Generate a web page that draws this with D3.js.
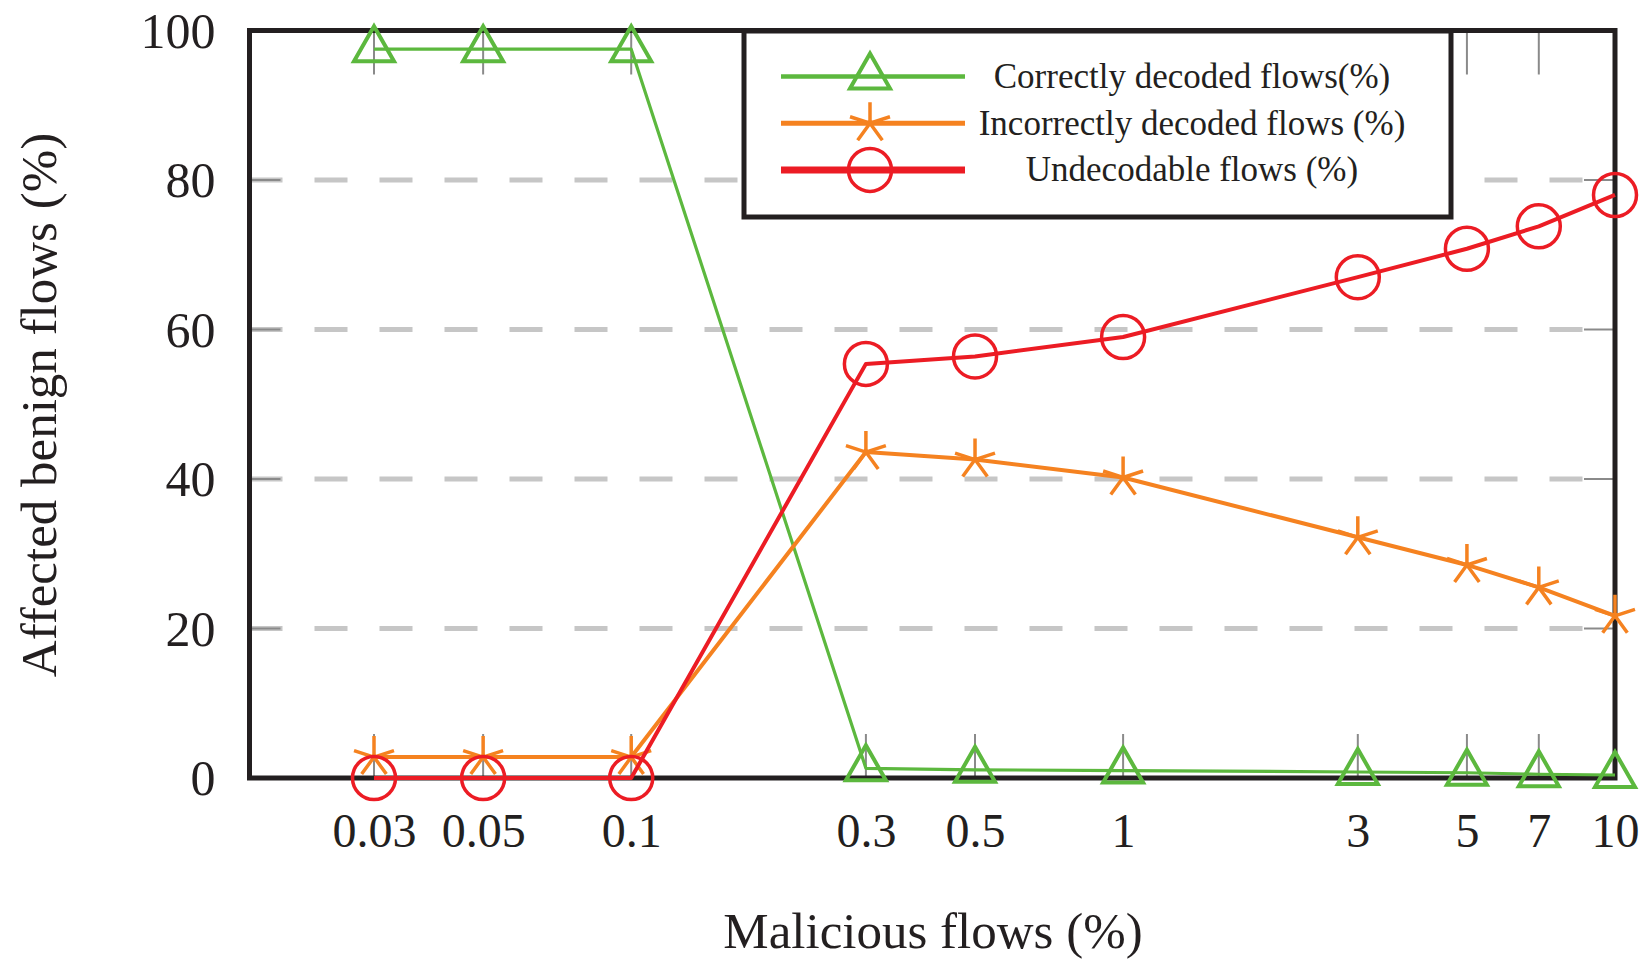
<!DOCTYPE html>
<html lang="en">
<head>
    <meta charset="UTF-8">
    <title>Affected benign flows</title>
    <style>
        body{ margin:0; background:#fff; }
        svg{ display:block; }
        text{ font-family:"Liberation Serif","DejaVu Serif",serif; fill:#231f20; }
    </style>
    <script src="https://cdn.jsdelivr.net/npm/d3@7"></script>
</head>
<body>
    <script>
        // data
        const xValues=[0.03,0.05,0.1,0.3,0.5,1,3,5,7,10];
        const xLabels=["0.03","0.05","0.1","0.3","0.5","1","3","5","7","10"];
        const yTicks=[0,20,40,60,80,100];
        const correctly=[97.5,97.5,97.5,1.3,1.1,1.0,0.8,0.7,0.5,0.4];
        const incorrectly=[2.8,2.8,2.8,43.6,42.6,40.2,32.2,28.5,25.5,21.7];
        const undecodable=[0,0,0,55.4,56.4,59.0,67.0,70.8,73.8,78.0];
        const seriesNames=["Correctly decoded flows(%)","Incorrectly decoded flows (%)","Undecodable flows (%)"];

        const width=1644, height=962;
        const margins={top:30.5, right:29, bottom:184, left:249.5};

        const svg=d3.select("body").append("svg")
            .attr("width",width).attr("height",height);

        const xScale=d3.scaleLog()
            .domain([0.01675,10])
            .range([margins.left,width-margins.right]);
        const yScale=d3.scaleLinear()
            .domain([0,100])
            .range([height-margins.bottom,margins.top]);

        //grid lines
        svg.append("g").selectAll("line")
            .data(yTicks.filter(d=>d>0&&d<100))
            .enter().append("line")
            .attr("x1",margins.left).attr("x2",width-margins.right)
            .attr("y1",d=>yScale(d)).attr("y2",d=>yScale(d))
            .attr("stroke","#c6c6c6").attr("stroke-width",5)
            .attr("stroke-dasharray","33,32");

        //tick marks inside the frame
        const tickG=svg.append("g").attr("stroke","#8a8a8a").attr("stroke-width",2);
        tickG.selectAll(".yl").data(yTicks).enter().append("line")
            .attr("x1",margins.left).attr("x2",margins.left+31)
            .attr("y1",d=>yScale(d)).attr("y2",d=>yScale(d));
        tickG.selectAll(".yr").data(yTicks).enter().append("line")
            .attr("x1",width-margins.right-31).attr("x2",width-margins.right)
            .attr("y1",d=>yScale(d)).attr("y2",d=>yScale(d));
        tickG.selectAll(".xb").data(xValues).enter().append("line")
            .attr("x1",d=>xScale(d)).attr("x2",d=>xScale(d))
            .attr("y1",yScale(0)).attr("y2",yScale(0)-44);
        tickG.selectAll(".xt").data(xValues).enter().append("line")
            .attr("x1",d=>xScale(d)).attr("x2",d=>xScale(d))
            .attr("y1",yScale(100)).attr("y2",yScale(100)+44);

        //axes labels
        const xAxis=d3.axisBottom(xScale).tickValues(xValues)
            .tickFormat((d,i)=>xLabels[i]).tickSize(0).tickPadding(0);
        svg.append("g")
            .attr("transform",`translate(0,${height-margins.bottom})`)
            .call(xAxis)
            .call(g=>g.select(".domain").remove())
            .selectAll("text")
            .attr("y",69).attr("dy",0)
            .style("font-size","48px").attr("fill","#231f20");

        const yAxis=d3.axisLeft(yScale).tickValues(yTicks).tickSize(0).tickPadding(0);
        svg.append("g")
            .attr("transform",`translate(${margins.left-34},0)`)
            .call(yAxis)
            .call(g=>g.select(".domain").remove())
            .selectAll("text")
            .attr("dy","0.33em")
            .style("font-size","50px").attr("fill","#231f20");

        //frame
        svg.append("rect")
            .attr("x",margins.left).attr("y",margins.top)
            .attr("width",width-margins.left-margins.right)
            .attr("height",height-margins.top-margins.bottom)
            .attr("fill","none").attr("stroke","#231f20").attr("stroke-width",5);

        //marker shapes
        const triangle={draw(ctx,size){
            const s=Math.sqrt(size)/40;
            ctx.moveTo(0,-23*s); ctx.lineTo(20*s,12*s); ctx.lineTo(-20*s,12*s); ctx.closePath();
        }};
        const asterisk={draw(ctx,size){
            const r=Math.sqrt(size)/2;
            for(let k=0;k<5;k++){
                const a=k*2*Math.PI/5;
                ctx.moveTo(0,0); ctx.lineTo(r*Math.sin(a),-r*Math.cos(a));
            }
        }};
        const ring={draw(ctx,size){
            const r=Math.sqrt(size)/2;
            ctx.moveTo(r,0); ctx.arc(0,0,r,0,2*Math.PI);
        }};

        const series=[
            {name:seriesNames[0],values:correctly,color:"#5cb83e",width:3.2,legendWidth:4.5,symbol:triangle,size:1600,mw:4},
            {name:seriesNames[1],values:incorrectly,color:"#f58220",width:4,legendWidth:5,symbol:asterisk,size:1764,mw:3.5},
            {name:seriesNames[2],values:undecodable,color:"#ec1c24",width:4,legendWidth:7,symbol:ring,size:1849,mw:3.5}
        ];

        const lineGen=d3.line()
            .x((d,i)=>xScale(xValues[i]))
            .y(d=>yScale(d));

        series.forEach(s=>{
            const g=svg.append("g");
            g.append("path")
                .attr("d",lineGen(s.values))
                .attr("fill","none").attr("stroke",s.color)
                .attr("stroke-width",s.width).attr("stroke-linejoin","round");
            g.selectAll("path.pt").data(s.values).enter().append("path")
                .attr("class","pt")
                .attr("transform",(d,i)=>`translate(${xScale(xValues[i])},${yScale(d)})`)
                .attr("d",d3.symbol().type(s.symbol).size(s.size)())
                .attr("fill","none").attr("stroke",s.color).attr("stroke-width",s.mw);
        });

        //legend
        const legend=svg.append("g").attr("class","legend");
        legend.append("rect")
            .attr("x",744).attr("y",31)
            .attr("width",707).attr("height",186)
            .attr("fill","#fff").attr("stroke","#231f20").attr("stroke-width",5);
        const items=legend.selectAll("g").data(series).enter().append("g")
            .attr("transform",(d,i)=>`translate(0,${76.5+i*46.7})`);
        items.append("line")
            .attr("x1",781).attr("x2",965)
            .attr("stroke",d=>d.color).attr("stroke-width",d=>d.legendWidth);
        items.append("path")
            .attr("transform","translate(870,0)")
            .attr("d",d=>d3.symbol().type(d.symbol).size(d.size)())
            .attr("fill","none").attr("stroke",d=>d.color).attr("stroke-width",d=>d.mw);
        items.append("text")
            .attr("x",1192).attr("dy","0.33em")
            .attr("text-anchor","middle")
            .style("font-size","35px")
            .text(d=>d.name);

        // axis titles
        svg.append("text")
            .attr("transform",`translate(56,405) rotate(-90)`)
            .attr("text-anchor","middle")
            .style("font-size","51px")
            .text("Affected benign flows (%)");

        svg.append("text")
            .attr("x",933).attr("y",948)
            .attr("text-anchor","middle")
            .style("font-size","51px")
            .text("Malicious flows (%)");
    </script>
</body>
</html>
